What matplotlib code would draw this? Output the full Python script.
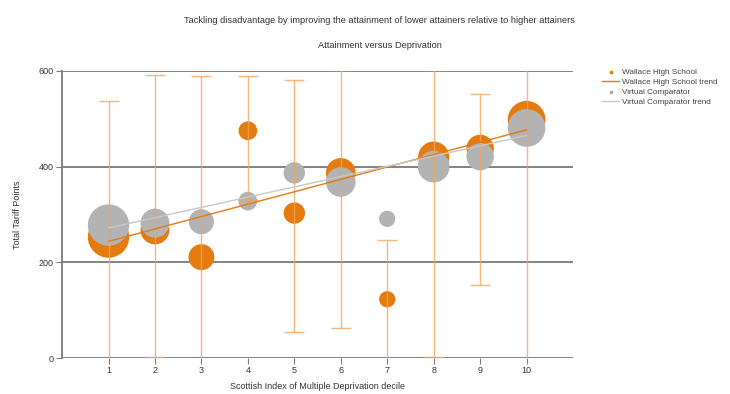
import matplotlib.pyplot as plt
import numpy as np

plt.rcParams['font.family'] = ['Liberation Sans', 'DejaVu Sans']

deciles = [1, 2, 3, 4, 5, 6, 7, 8, 9, 10]

# Wallace High School
wallace = [253, 268, 211, 475, 303, 387, 123, 420, 438, 498]
wallace_low = [-30, 2, -30, 330, 55, 63, -30, 2, 153, -30]
wallace_high = [537, 592, 590, 590, 580, 602, 247, 602, 552, 640]
wallace_pupils = [40, 19, 15, 7.5, 10, 20, 5.5, 22, 17, 33]
wallace_trend = [244, 477]

# Virtual Comparator
comparator = [278, 282, 285, 328, 387, 368, 291, 400, 421, 481]
comparator_pupils = [40, 19, 14, 7.5, 10, 20, 5.5, 23, 17, 33]
comparator_trend = [272, 465]

trend_x = [1, 10]

orange = '#E57B0E'
grey = '#B3B3B3'

fig = plt.figure(figsize=(7.3, 3.94), dpi=100)
ax = fig.add_axes([0.085, 0.091, 0.70, 0.729])

for y in [0, 200, 400, 600]:
    ax.axhline(y, color='#7a7a7a', lw=1.3, zorder=1)

ax.scatter(deciles, wallace, s=[p * 20.7 for p in wallace_pupils],
           color=orange, zorder=2, label='Wallace High School')
ax.scatter(deciles, comparator, s=[p * 20.7 for p in comparator_pupils],
           color=grey, zorder=3, label='Virtual Comparator')

err = [np.array(wallace) - np.array(wallace_low), np.array(wallace_high) - np.array(wallace)]
ax.errorbar(deciles, wallace, yerr=err, fmt='none', ecolor='#F0A560',
            elinewidth=1, capsize=7, alpha=0.8, zorder=4)

ax.plot(trend_x, wallace_trend, color=orange, lw=1, zorder=5,
        label='Wallace High School trend')
ax.plot(trend_x, comparator_trend, color='#C8C8C8', lw=1, zorder=5,
        label='Virtual Comparator trend')

ax.set_xlim(0, 11)
ax.set_ylim(0, 600)
ax.set_xticks(deciles)
ax.set_yticks([0, 200, 400, 600])
ax.tick_params(labelsize=6.5, colors='#7a7a7a', labelcolor='#333333', length=4, pad=2)
for side in ['top', 'right']:
    ax.spines[side].set_visible(False)
ax.spines['left'].set_color('#7a7a7a')
ax.spines['left'].set_linewidth(1.3)
ax.spines['bottom'].set_visible(False)

ax.set_ylabel('Total Tariff Points', fontsize=6.5, color='#333333', labelpad=12)
ax.set_xlabel('Scottish Index of Multiple Deprivation decile', fontsize=6.5,
              color='#333333', labelpad=5)

fig.text(0.52, 0.942, 'Tackling disadvantage by improving the attainment of lower attainers relative to higher attainers',
         ha='center', fontsize=6.7, color='#333333')
fig.text(0.52, 0.878, 'Attainment versus Deprivation', ha='center', fontsize=6.7, color='#333333')

handles, labels = ax.get_legend_handles_labels()
order = [0, 2, 1, 3]
leg = fig.legend([handles[i] for i in order], [labels[i] for i in order],
                 loc='upper left', bbox_to_anchor=(0.815, 0.845), frameon=False,
                 fontsize=5.9, markerscale=0.08, handlelength=2,
                 labelspacing=0.25, handletextpad=0.4)
for t in leg.get_texts():
    t.set_color('#444444')

plt.savefig('out.png', dpi=100)
